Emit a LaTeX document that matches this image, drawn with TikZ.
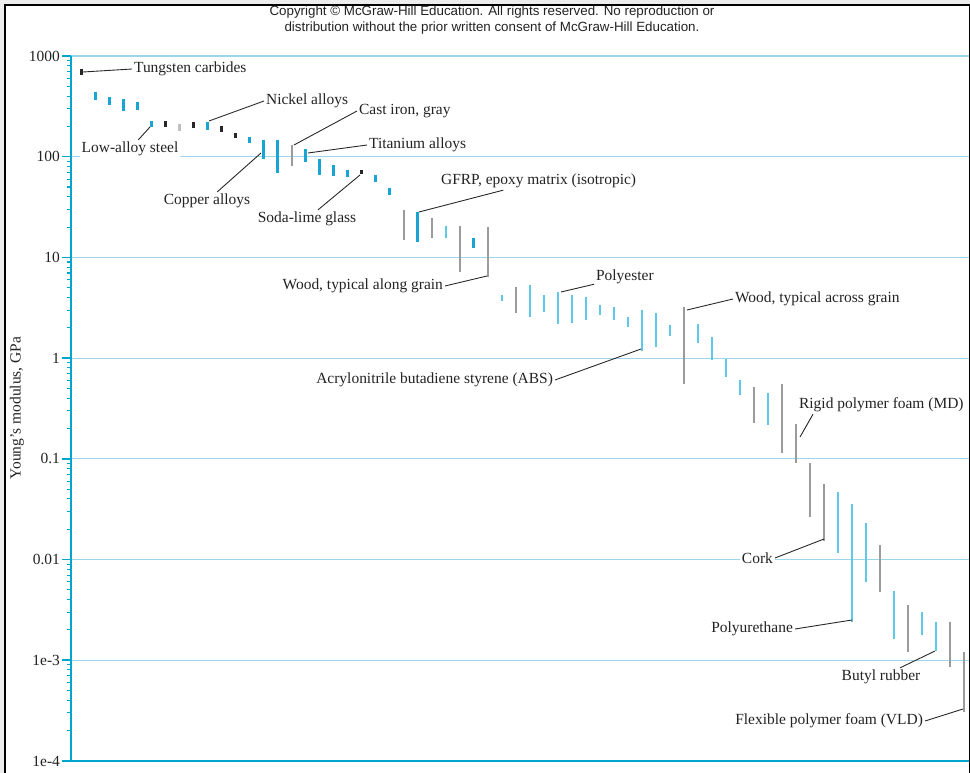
\documentclass[tikz,border=0pt]{standalone}
\usepackage{fontspec}
\setmainfont{Liberation Serif}
\newfontfamily\copyfont{Liberation Sans}
\usepackage{tikz}
\usetikzlibrary{positioning}
\usepackage{xcolor}

\definecolor{axiscyan}{RGB}{0,165,205}
\definecolor{gridcyan}{RGB}{155,214,234}
\definecolor{barblue}{RGB}{25,165,212}
\definecolor{barlight}{RGB}{95,200,230}
\definecolor{bargrey}{RGB}{155,155,155}
\definecolor{textdark}{RGB}{35,35,35}

\begin{document}
\begin{tikzpicture}[
        x=0.02cm, y=-0.02cm,
        font=\fontsize{8.8}{10}\selectfont,
        text=textdark,
        axis/.style={draw=axiscyan, line width=0.9pt},
        grid/.style={draw=gridcyan, line width=0.6pt},
        lbl/.style={fill=white, inner sep=1pt},
        leader/.style={draw=black!85, line width=0.5pt},
        bk/.style={draw=black!85, line width=1.5pt},
        bl/.style={draw=barblue, line width=1.6pt},
        lb/.style={draw=barlight, line width=1.1pt},
        gr/.style={draw=bargrey, line width=1.1pt},
        lg/.style={draw=black!25, line width=1.4pt}
    ]

    % Frame
    \useasboundingbox (0,0) rectangle (970,773);
    \fill[black!7] (0,0) rectangle (970,773);
    \fill[white] (5,5) rectangle (970,773);
    \draw[black, line width=1.7pt] (5,773) -- (5,5) -- (970,5);
    \draw[black, line width=1pt] (969.5,5) -- (969.5,773);

    \node[font=\copyfont\fontsize{7.6}{9.4}\selectfont, align=center] (copy) at (492,20)
        {Copyright \textcopyright{} McGraw-Hill Education. All rights reserved. No reproduction or\\
         distribution without the prior written consent of McGraw-Hill Education.};

    % Grid and axis
    \foreach \v [count=\n from 0] in {1000,100,10,1,0.1,0.01,1e-3} {
        \draw[grid] (71,56+100.7*\n) -- (969,56+100.7*\n);
        \draw[axis] (62,56+100.7*\n) -- (71,56+100.7*\n);
        \node[anchor=east, inner sep=1pt] (tick\n) at (62,56+100.7*\n) {\v};
    }
    \node[anchor=east, inner sep=1pt] (tick7) at (62,761) {1e-4};
    \foreach \d in {0,...,6}
        \foreach \k in {2,...,9}
            \draw[axis, line width=0.6pt] (67,{56+100.7*(\d+1)-100.7*log10(\k)}) -- (71,{56+100.7*(\d+1)-100.7*log10(\k)});
    \draw[axis] (71,56) -- (71,761);
    \draw[axis, line width=1.2pt] (62,761) -- (969,761);

    \node[rotate=90] (ylabel) at (17,408) {Young's modulus, GPa};

    % Bars
    \foreach \i/\t/\b/\s in {0/69/75/bk, 1/92/100/bl, 2/97/105/bl, 3/99/111/bl, 4/102/110/bl,
        5/121/127/bl, 6/121/127/bk, 7/124/131/lg, 8/122/128/bk, 9/122/130/bl, 10/126/132/bk,
        11/133/138/bk, 12/137/143/bl, 13/140/159/bl, 14/140/173/bl, 15/145/166/gr, 16/149/162/bl,
        17/159/175/bl, 18/165/176/bl, 19/170/177/bl, 20/170/174/bk, 21/175/182/bl, 22/188/195/bl,
        23/210/240/gr, 24/212/242/bl, 25/218/238/gr, 26/226/238/lb, 27/226/272/gr, 28/238/248/bl,
        29/227/277/gr, 30/295/301/lb, 31/287/313/gr, 32/285/317/lb, 33/295/312/lb, 34/292/324/lb,
        35/295/323/lb, 36/297/320/lb, 37/305/315/lb, 38/307/320/lb, 39/317/327/lb, 40/310/351/lb,
        41/313/347/lb, 42/325/336/lb, 43/307/384/gr, 44/324/343/lb, 45/337/360/lb, 46/359/377/lb,
        47/380/395/lb, 48/387/423/gr, 49/393/425/lb, 50/384/453/gr, 51/424/463/gr, 52/463/517/gr,
        53/484/541/gr, 54/492/553/lb, 55/504/622/lb, 56/523/582/lb, 57/545/592/gr, 58/591/639/lb,
        59/605/652/gr, 60/612/635/lb, 61/622/651/lb, 62/622/667/gr, 63/652/712/gr} {
        \draw[\s] ({81.5+14.01*\i},\t) -- ({81.5+14.01*\i},\b);
    }

    % Labels
    \node[lbl, anchor=west] (tung) at (132,69) {Tungsten carbides};
    \node[lbl] (lowsteel) at (130,149) {Low-alloy steel};
    \node[lbl, anchor=west] (nickel) at (264,101) {Nickel alloys};
    \node[lbl, anchor=west] (cast) at (357,111) {Cast iron, gray};
    \node[lbl, anchor=west] (titan) at (367,145) {Titanium alloys};
    \node[lbl] (copper) at (207,201) {Copper alloys};
    \node[lbl] (glass) at (307,219) {Soda-lime glass};
    \node[lbl, anchor=west] (gfrp) at (439,181) {GFRP, epoxy matrix (isotropic)};
    \node[lbl, anchor=east] (woodal) at (445,286) {Wood, typical along grain};
    \node[lbl, anchor=west] (polyes) at (594,277) {Polyester};
    \node[lbl, anchor=east] (abs) at (555,380) {Acrylonitrile butadiene styrene (ABS)};
    \node[lbl, anchor=west] (woodac) at (733,299) {Wood, typical across grain};
    \node[lbl, anchor=west] (rigid) at (797,405) {Rigid polymer foam (MD)};
    \node[lbl, anchor=east] (cork) at (775,558) {Cork};
    \node[lbl, anchor=east] (poly) at (795,629) {Polyurethane};
    \node[lbl] (butyl) at (881,677) {Butyl rubber};
    \node[lbl, anchor=east] (flex) at (925,721) {Flexible polymer foam (VLD)};

    % Leader lines
    \coordinate (b0) at (83,72);
    \coordinate (b5) at (150,127);
    \coordinate (b9) at (209,121);
    \coordinate (b13) at (261,153);
    \coordinate (b15) at (294,145);
    \coordinate (b16) at (308,153);
    \coordinate (b20) at (360,175);
    \coordinate (b24) at (419,212);
    \coordinate (b29) at (487,276);
    \coordinate (b34) at (561,292);
    \coordinate (b40) at (641,349);
    \coordinate (b43) at (687,310);
    \coordinate (b51) at (800,437);
    \coordinate (b53) at (824,539);
    \coordinate (b55) at (852,620);
    \coordinate (b61) at (935,651);
    \coordinate (b63) at (963,709);

    \path[leader] (b0) -- (tung.west);
    \path[leader] (b5) -- (lowsteel);
    \path[leader] (b9) -- (nickel.west);
    \path[leader] (b13) -- (copper);
    \path[leader] (b15) -- (cast.west);
    \path[leader] (b16) -- (titan.west);
    \path[leader] (b20) -- (glass);
    \path[leader] (b24) -- (gfrp);
    \path[leader] (b29) -- (woodal.east);
    \path[leader] (b34) -- (polyes);
    \path[leader] (b40) -- (abs.east);
    \path[leader] (b43) -- (woodac.west);
    \path[leader] (b51) -- ([xshift=0.32cm]rigid.south west);
    \path[leader] (b53) -- (cork.east);
    \path[leader] (b55) -- (poly.east);
    \path[leader] (b61) -- (butyl);
    \path[leader] (b63) -- (flex.east);

\end{tikzpicture}
\end{document}
